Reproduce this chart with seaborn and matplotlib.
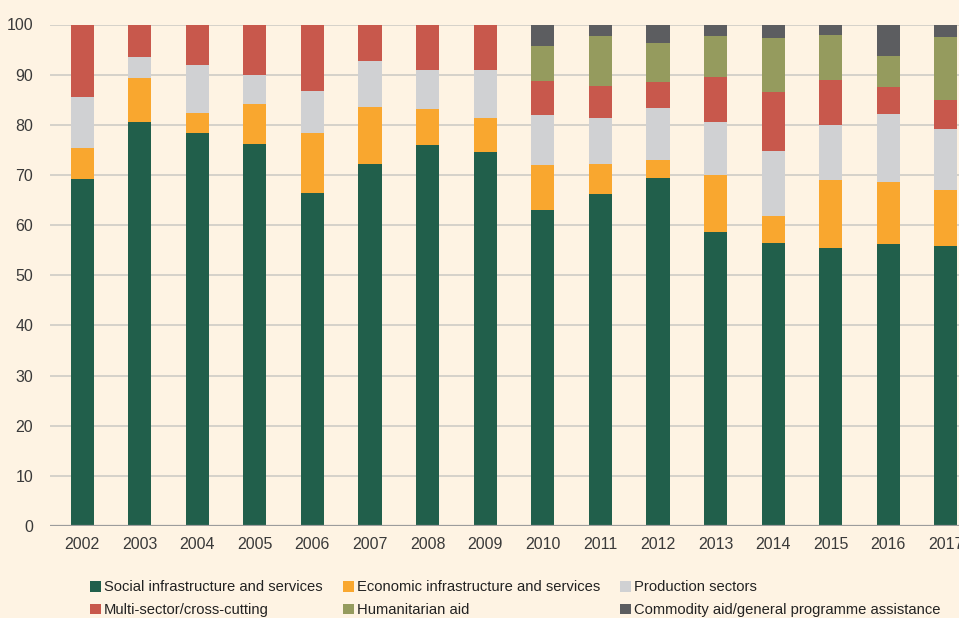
import matplotlib
matplotlib.use("Agg")
import matplotlib.pyplot as plt
import numpy as np
import pandas as pd
import seaborn as sns
from matplotlib.patches import Patch

# DATA (share of total, %)
years = ["2002", "2003", "2004", "2005", "2006", "2007", "2008", "2009",
         "2010", "2011", "2012", "2013", "2014", "2015", "2016", "2017"]
sectors = ["Social infrastructure and services",
           "Economic infrastructure and services",
           "Production sectors",
           "Multi-sector/cross-cutting",
           "Humanitarian aid",
           "Commodity aid/general programme assistance"]
social = [69.2, 80.5, 78.3, 76.2, 66.4, 72.2, 76.0, 74.5,
          63.1, 66.2, 69.3, 58.6, 56.5, 55.4, 56.2, 55.8]
economic = [6.2, 8.9, 4.0, 7.9, 11.9, 11.3, 7.1, 6.9,
            8.9, 6.0, 3.7, 11.3, 5.3, 13.5, 12.4, 11.2]
production = [10.2, 4.2, 9.6, 5.9, 8.4, 9.2, 7.9, 9.6,
              9.9, 9.2, 10.3, 10.7, 13.0, 11.0, 13.5, 12.1]
multisector = [14.4, 6.4, 8.1, 10.0, 13.3, 7.3, 9.0, 9.0,
               6.9, 6.4, 5.3, 9.0, 11.7, 9.1, 5.5, 5.9]
humanitarian = [0, 0, 0, 0, 0, 0, 0, 0,
                6.9, 9.9, 7.8, 8.2, 10.9, 9.0, 6.2, 12.6]
commodity = [0, 0, 0, 0, 0, 0, 0, 0,
             4.3, 2.3, 3.6, 2.2, 2.6, 2.0, 6.2, 2.4]
yticks = list(range(0, 101, 10))

colors = ["#215F4B", "#F9A72F", "#D0D1D3", "#C8584C", "#959B5E", "#5C5D60"]
BG = "#FEF3E3"

df = pd.DataFrame({"year": years, sectors[0]: social, sectors[1]: economic,
                   sectors[2]: production, sectors[3]: multisector,
                   sectors[4]: humanitarian, sectors[5]: commodity})

sns.set_theme(style="white")
plt.rcParams["font.family"] = ["Liberation Sans", "DejaVu Sans"]

fig = plt.figure(figsize=(9.59, 6.18), dpi=100, facecolor=BG)
ax = fig.add_axes([50 / 959, 1 - 526 / 618, 928 / 959, (526 - 24.5) / 618])
ax.set_facecolor(BG)

for v in yticks[1:]:
    ax.axhline(v, color="#CFCCC6", lw=1.2, zorder=0)
ax.axhline(0, color="#9C9C9C", lw=1.6, zorder=3)

bottom = np.zeros(len(years))
for name, col in zip(sectors, colors):
    sns.barplot(data=df, x="year", y=name, color=col, width=0.4,
                bottom=bottom, linewidth=0, saturation=1, ax=ax, zorder=2)
    bottom = bottom + df[name].to_numpy()

ax.set_xlim(-0.556, 15.556)
ax.set_ylim(0, 100)
ax.set_yticks(yticks)
ax.set_xlabel("")
ax.set_ylabel("")
for s in ax.spines.values():
    s.set_visible(False)
ax.tick_params(axis="both", length=0, labelsize=11.5, colors="#3a3a3a")
ax.tick_params(axis="y", pad=12)
ax.tick_params(axis="x", pad=8)

handles = [Patch(facecolor=c, edgecolor="none") for c in colors]
order = [0, 3, 1, 4, 2, 5]
fig.legend([handles[i] for i in order], [sectors[i] for i in order],
           loc="upper left", bbox_to_anchor=(0.094, 0.061), ncol=3,
           frameon=False, fontsize=10.6, handlelength=0.75, handleheight=0.75,
           handletextpad=0.2, columnspacing=1.35, labelspacing=0.6,
           borderpad=0, borderaxespad=0, labelcolor="#222222")

fig.savefig("out.png", dpi=100, facecolor=BG)
